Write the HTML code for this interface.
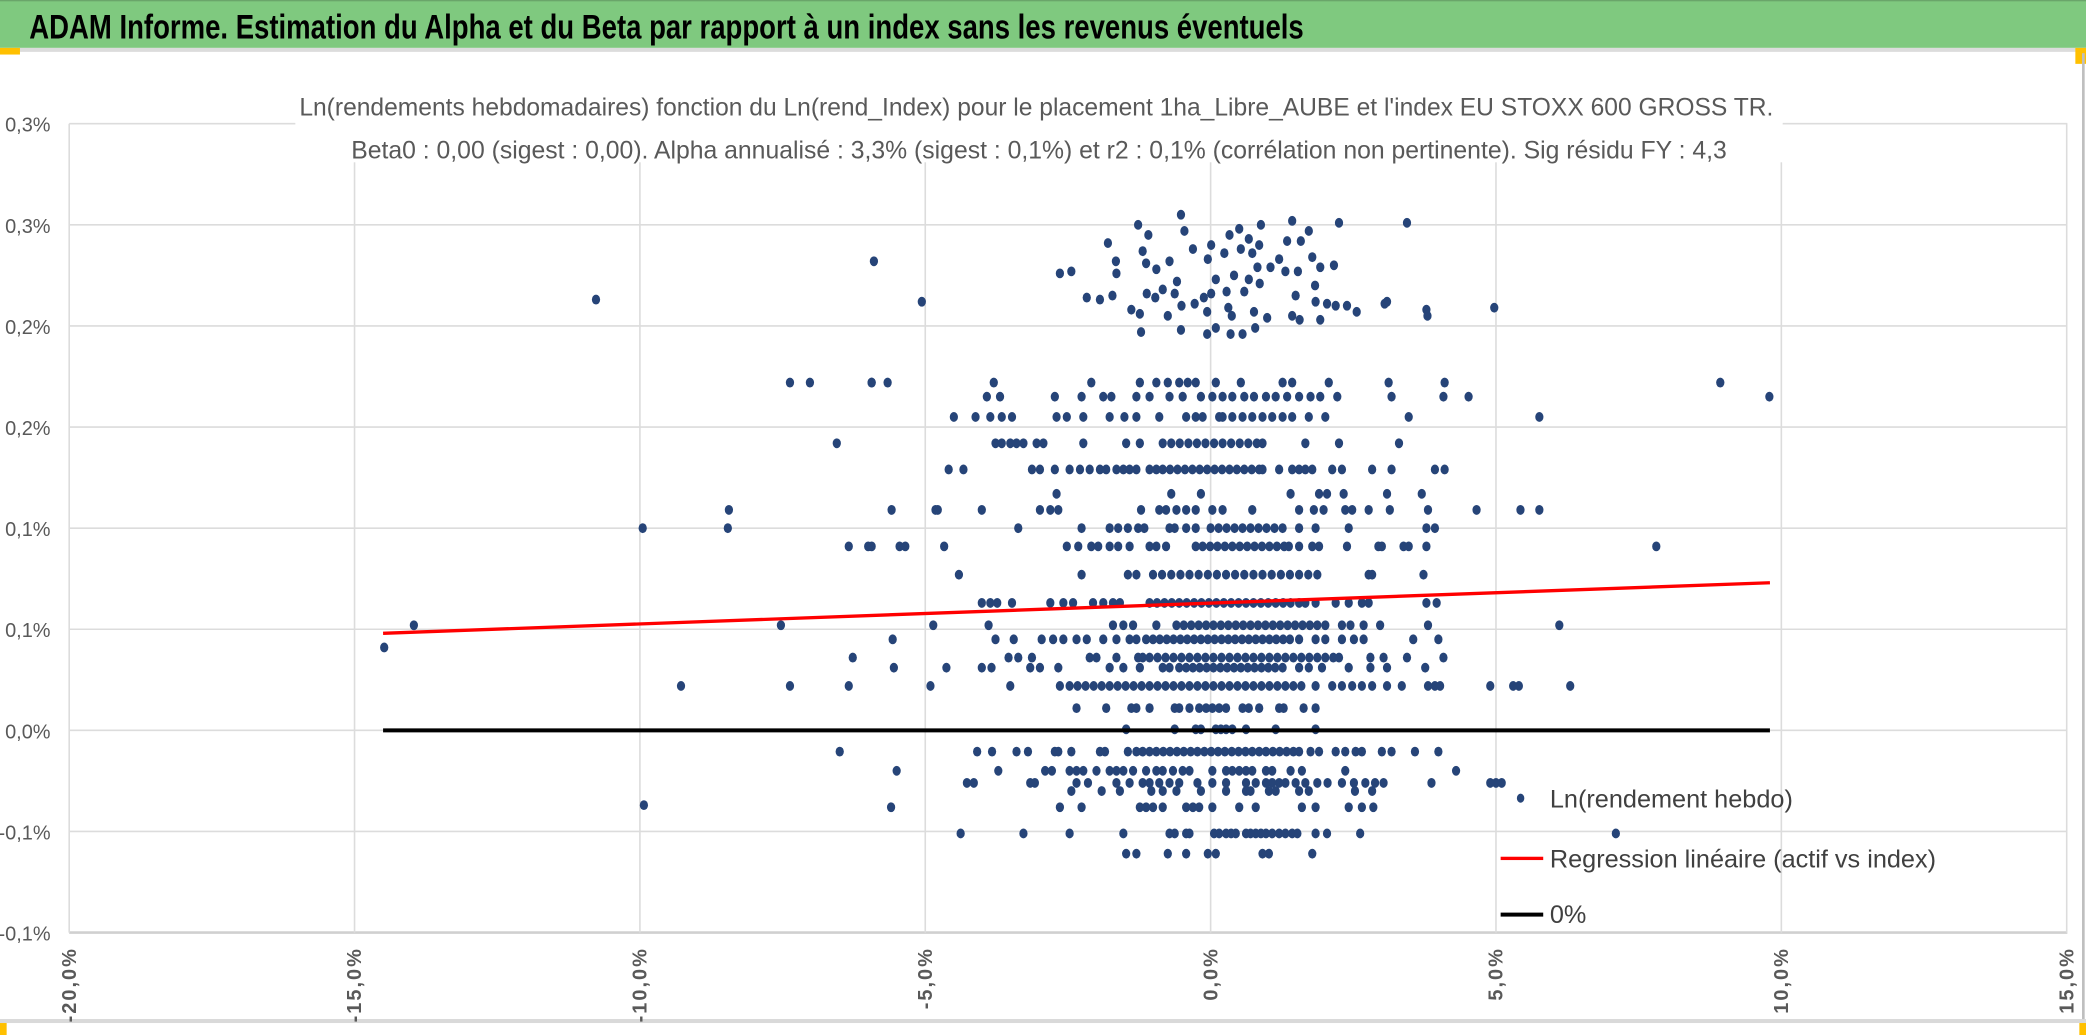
<!DOCTYPE html>
<html><head><meta charset="utf-8"><style>
html,body{margin:0;padding:0;background:#fff;overflow:hidden}
svg{display:block}
text{font-family:"Liberation Sans Narrow","Liberation Sans",sans-serif}
</style></head><body>
<svg id="chart" width="2086" height="1035" viewBox="0 0 1568 778" preserveAspectRatio="none" xmlns="http://www.w3.org/2000/svg">
<rect x="0" y="0" width="1568" height="778" fill="#fff"/>
<g>
<rect x="0" y="0" width="1568" height="36" fill="#7fc97f"/>
<rect x="0" y="0" width="1568" height="1" fill="#6aa56a"/>
<text x="22" y="29" font-size="26" font-weight="bold" fill="#000" textLength="958" lengthAdjust="spacingAndGlyphs">ADAM Informe. Estimation du Alpha et du Beta par rapport à un index sans les revenus éventuels</text>
</g>
<rect x="0" y="36" width="1568" height="3" fill="#dcdcdc"/>
<rect x="0" y="36" width="15" height="5" fill="#ffc000"/>
<rect x="1560" y="36" width="8" height="12" fill="#ffc000"/>
<rect x="1565" y="40" width="2" height="730" fill="#bfbfbf"/>
<rect x="0" y="766" width="1568" height="3" fill="#d9d9d9"/>
<rect x="0" y="769" width="5" height="9" fill="#ffc000"/>
<rect x="1563" y="769" width="5" height="9" fill="#ffc000"/>
<g id="grid"></g>
<g>
<rect x="222" y="64" width="1118" height="58" fill="#fff"/>
<text x="779" y="87" font-size="19" fill="#595959" text-anchor="middle" textLength="1108" lengthAdjust="spacingAndGlyphs">Ln(rendements hebdomadaires) fonction du Ln(rend_Index) pour le placement 1ha_Libre_AUBE et l'index EU STOXX 600 GROSS TR.</text>
<text x="781" y="119" font-size="19" fill="#595959" text-anchor="middle" textLength="1034" lengthAdjust="spacingAndGlyphs">Beta0 : 0,00 (sigest : 0,00). Alpha annualisé : 3,3% (sigest : 0,1%) et r2 : 0,1% (corrélation non pertinente). Sig résidu FY : 4,3</text>
</g>
<g id="yaxis"></g>
<g id="xaxis"></g>
<g id="points"></g>
<g id="lines"></g>
<g>
<g><ellipse cx="1143" cy="600" rx="2.8" ry="3.4" fill="#264478"/><text x="1165" y="607" font-size="19" fill="#404040">Ln(rendement hebdo)</text></g>
<g><rect x="1128" y="644" width="32" height="2.5" fill="#ff0000"/><text x="1165" y="652" font-size="19" fill="#404040">Regression linéaire (actif vs index)</text></g>
<g><rect x="1128" y="686" width="32" height="3" fill="#000"/><text x="1165" y="694" font-size="19" fill="#404040">0%</text></g>
</g>
</svg>
<script>
const yTicks=[0.30,0.25,0.20,0.15,0.10,0.05,0,-0.05,-0.10];
const yTickLabels=["0,3%","0,3%","0,2%","0,2%","0,1%","0,1%","0,0%","-0,1%","-0,1%"];
const xTicks=[-20,-15,-10,-5,0,5,10,15];
const xTickLabels=["-20,0%","-15,0%","-10,0%","-5,0%","0,0%","5,0%","10,0%","15,0%"];
const regX=[-14.5,9.8];
const regY=[0.048,0.073];
const zeroX=[-14.5,9.8];
const zeroY=[0,0];
const bandY=[-0.061,-0.051,-0.038,-0.030,-0.026,-0.020,-0.0105,0.0005,0.011,0.022,0.031,0.036,0.045,0.052,0.063,0.077,0.091,0.100,0.109,0.117,0.129,0.142,0.155,0.165,0.172];
const bandX=[
[-1.48,-1.30,-0.75,-0.43,-0.05,0.09,0.91,1.02,1.78],
[-4.38,-3.28,-2.47,-1.53,-0.72,-0.63,-0.43,-0.37,0.06,0.15,0.27,0.36,0.44,0.62,0.70,0.79,0.88,0.97,1.08,1.20,1.31,1.43,1.52,1.84,2.04,2.62,7.1],
[-2.64,-2.26,-1.24,-1.13,-1.01,-0.84,-0.43,-0.31,-0.20,0.03,0.50,0.79,1.60,1.84,2.42,2.65,2.85,-5.6],
[-2.44,-1.91,-1.59,-1.04,-0.84,-0.60,-0.17,0.27,0.62,0.70,1.02,1.14,1.55,1.72,2.53,2.83],
[-4.27,-4.15,-3.16,-3.08,-2.35,-2.15,-1.65,-1.42,-1.19,-1.07,-0.90,-0.72,-0.55,-0.23,0.03,0.27,0.62,0.79,0.97,1.08,1.20,1.31,1.49,1.66,1.87,2.05,2.30,2.51,2.71,2.88,3.03,3.87,4.9,5.0,5.1],
[-3.72,-2.90,-2.78,-2.47,-2.35,-2.23,-2.0,-1.77,-1.65,-1.53,-1.36,-1.13,-0.95,-0.84,-0.66,-0.49,-0.37,0.03,0.27,0.38,0.50,0.62,0.73,0.97,1.08,1.40,1.60,2.36,4.3,-5.5],
[-6.5,-4.09,-3.83,-3.40,-3.20,-2.73,-2.67,-2.44,-1.94,-1.85,-1.45,-1.30,-1.19,-1.07,-0.95,-0.83,-0.71,-0.59,-0.47,-0.35,-0.23,-0.11,0.01,0.13,0.25,0.37,0.49,0.61,0.73,0.85,0.97,1.09,1.21,1.33,1.45,1.55,1.75,1.90,2.19,2.36,2.54,2.65,3.00,3.17,3.58,3.99],
[-1.48,-0.63,-0.26,-0.17,0.09,0.18,0.27,0.38,0.62,1.14,1.84],
[-2.35,-1.83,-1.39,-1.30,-1.07,-0.63,-0.55,-0.37,-0.20,-0.08,0.03,0.15,0.27,0.56,0.67,0.85,1.20,1.28,1.63,1.84],
[-9.28,-7.37,-6.34,-4.91,-3.51,-2.64,-2.47,-2.33,-2.19,-2.05,-1.91,-1.77,-1.63,-1.49,-1.35,-1.21,-1.07,-0.93,-0.79,-0.65,-0.51,-0.37,-0.23,-0.09,0.05,0.19,0.33,0.47,0.61,0.75,0.89,1.03,1.17,1.31,1.45,1.59,1.84,2.13,2.30,2.48,2.65,2.83,3.09,3.35,3.81,3.93,4.02,4.9,5.3,5.4,6.3],
[-5.55,-4.63,-4.01,-3.84,-3.16,-2.99,-2.67,-1.77,-1.53,-1.24,-0.84,-0.72,-0.55,-0.43,-0.31,-0.19,-0.07,0.05,0.17,0.29,0.41,0.53,0.65,0.77,0.89,1.01,1.13,1.26,1.55,1.72,1.95,2.42,2.80,3.09,3.76],
[-6.27,-3.54,-3.37,-3.13,-2.12,-2.0,-1.65,-1.27,-1.19,-1.07,-0.93,-0.79,-0.65,-0.51,-0.37,-0.23,-0.09,0.05,0.19,0.33,0.47,0.61,0.75,0.89,1.03,1.17,1.31,1.45,1.59,1.73,1.87,2.01,2.15,2.25,2.80,3.03,3.44,4.08],
[-5.57,-3.77,-3.45,-2.96,-2.76,-2.58,-2.35,-2.17,-1.88,-1.65,-1.42,-1.30,-1.13,-1.01,-0.89,-0.77,-0.65,-0.53,-0.41,-0.29,-0.17,-0.05,0.07,0.19,0.31,0.43,0.55,0.67,0.79,0.91,1.03,1.15,1.27,1.39,1.55,1.84,2.01,2.30,2.51,2.68,3.55,3.99],
[-7.53,-4.86,-3.89,-1.71,-1.53,-1.36,-0.95,-0.60,-0.47,-0.34,-0.21,-0.08,0.05,0.18,0.31,0.44,0.57,0.70,0.83,0.96,1.09,1.22,1.35,1.48,1.61,1.74,1.87,2.01,2.30,2.45,2.68,2.97,3.81,6.11],
[-4.01,-3.86,-3.74,-3.48,-2.81,-2.58,-2.41,-2.06,-1.88,-1.71,-1.59,-1.07,-0.94,-0.81,-0.68,-0.55,-0.42,-0.29,-0.16,-0.03,0.10,0.23,0.36,0.49,0.62,0.75,0.88,1.01,1.14,1.27,1.40,1.55,1.66,1.84,2.19,2.42,2.65,2.77,3.78,3.96],
[-4.41,-2.26,-1.45,-1.30,-1.01,-0.85,-0.69,-0.53,-0.37,-0.21,-0.05,0.11,0.27,0.43,0.59,0.75,0.91,1.07,1.23,1.39,1.55,1.71,1.87,2.77,2.83,3.73],
[-6.34,-6.0,-5.94,-5.45,-5.35,-4.67,-2.52,-2.32,-2.09,-1.97,-1.77,-1.62,-1.42,-1.07,-0.95,-0.78,-0.26,-0.14,-0.01,0.12,0.25,0.38,0.51,0.64,0.77,0.90,1.03,1.16,1.29,1.37,1.55,1.78,1.90,2.39,2.94,3.0,3.38,3.47,3.78,7.81],
[-9.95,-8.46,-3.37,-2.26,-1.77,-1.62,-1.45,-1.27,-1.16,-0.72,-0.63,-0.43,-0.26,0.0,0.14,0.28,0.42,0.56,0.70,0.84,0.98,1.12,1.26,1.55,1.84,2.42,3.78,3.93],
[-8.44,-5.59,-4.78,-4.82,-4.01,-2.99,-2.81,-2.67,-1.22,-0.90,-0.78,-0.60,-0.43,-0.26,0.03,0.21,0.73,1.55,1.81,1.98,2.36,2.48,2.77,3.14,3.81,4.66,5.43,5.76],
[-2.70,-0.69,-0.17,1.40,1.90,2.04,2.33,3.09,3.70],
[-4.59,-4.33,-3.13,-2.99,-2.73,-2.47,-2.29,-2.12,-1.94,-1.83,-1.65,-1.53,-1.42,-1.30,-1.07,-0.95,-0.84,-0.71,-0.58,-0.45,-0.32,-0.19,-0.06,0.07,0.20,0.33,0.46,0.59,0.72,0.85,0.91,1.20,1.43,1.55,1.66,1.78,2.13,2.30,2.83,3.17,3.93,4.1],
[-6.55,-3.77,-3.66,-3.51,-3.40,-3.28,-3.05,-2.93,-2.23,-1.48,-1.24,-0.84,-0.69,-0.54,-0.39,-0.24,-0.09,0.06,0.21,0.36,0.51,0.66,0.81,0.91,1.66,2.25,3.30],
[-4.50,-4.12,-3.86,-3.66,-3.48,-2.70,-2.52,-2.23,-1.77,-1.51,-1.30,-0.90,-0.43,-0.26,-0.14,0.15,0.21,0.38,0.56,0.73,0.91,1.08,1.26,1.43,1.72,2.01,3.47,5.76],
[-3.92,-3.69,-2.73,-2.26,-1.88,-1.74,-1.30,-1.07,-0.72,-0.49,-0.17,0.03,0.21,0.38,0.59,0.76,0.97,1.14,1.34,1.55,1.75,1.92,2.22,3.17,4.08,4.52,9.79],
[-7.37,-7.02,-5.94,-5.94,-5.66,-3.80,-2.09,-1.24,-0.95,-0.75,-0.55,-0.40,-0.26,0.09,0.53,1.26,1.43,2.07,3.12,4.10,8.93]
];
const upperX=[-0.52,-1.27,1.43,2.25,3.44,0.88,0.50,-0.46,-1.09,1.72,-1.80,0.33,0.67,0.01,0.85,1.34,1.58,-1.19,-0.31,0.24,0.53,0.73,-1.66,-0.72,-1.13,-0.05,1.20,1.78,2.16,1.92,-2.64,-2.44,-1.65,-0.95,0.82,1.05,1.31,1.53,0.09,0.41,0.67,0.86,-0.59,1.83,-2.17,-1.94,-1.72,-1.12,-0.84,-0.63,-0.97,-0.12,0.01,0.28,0.59,1.49,3.09,1.84,2.04,2.19,2.39,2.56,3.78,-1.39,-1.24,-0.75,-0.51,-0.28,-0.06,0.31,0.37,0.76,0.99,1.43,1.56,1.92,-1.22,-0.52,-0.06,0.09,0.35,0.56,0.78,-10.77,-5.9,-5.06,3.05,3.8,4.97,-14.48,-13.96,-9.93];
const upperY=[0.255,0.250,0.252,0.251,0.251,0.250,0.248,0.247,0.245,0.247,0.241,0.245,0.243,0.240,0.240,0.242,0.242,0.237,0.238,0.236,0.238,0.236,0.232,0.232,0.231,0.233,0.233,0.234,0.230,0.229,0.226,0.227,0.226,0.228,0.229,0.229,0.227,0.227,0.223,0.225,0.223,0.221,0.222,0.220,0.214,0.213,0.215,0.216,0.218,0.216,0.214,0.214,0.216,0.217,0.217,0.215,0.212,0.212,0.211,0.210,0.210,0.207,0.208,0.208,0.206,0.205,0.210,0.211,0.207,0.209,0.205,0.207,0.204,0.205,0.203,0.203,0.197,0.198,0.196,0.199,0.196,0.196,0.199,0.213,0.232,0.212,0.211,0.205,0.209,0.041,0.052,-0.037];

const X0=910, XS=42.9, Y0=549, YS=1520;
function xs(u){return X0+u*XS;}
function ys(v){return Y0-v*YS;}
const NS="http://www.w3.org/2000/svg";
function mk(tag,attrs,parent){const e=document.createElementNS(NS,tag);for(const k in attrs)e.setAttribute(k,attrs[k]);parent.appendChild(e);return e;}

const grid=document.getElementById('grid');
yTicks.forEach((t,i)=>{
  const y=ys(t);
  const l=mk('line',{x1:52,x2:1554,y1:y,y2:y,stroke:(i===yTicks.length-1)?'#d0d0d0':'#dcdcdc','stroke-width':(i===yTicks.length-1)?2:1.2},grid);
  
  
});
xTicks.forEach((t)=>{
  const x=xs(t);
  const l=mk('line',{x1:x,x2:x,y1:ys(yTicks[0]),y2:ys(yTicks[yTicks.length-1]),stroke:'#dcdcdc','stroke-width':1.2},grid);
  
  
});
const ya=document.getElementById('yaxis');
yTicks.forEach((t,i)=>{
  const tx=mk('text',{x:38,y:ys(t)+6,'font-size':15,fill:'#595959','text-anchor':'end'},ya);
  tx.textContent=yTickLabels[i];
  
  
});
const xa=document.getElementById('xaxis');
xTicks.forEach((t,i)=>{
  const x=xs(t);
  const tx=mk('text',{x:0,y:0,'font-size':15,'font-weight':'bold',fill:'#595959','text-anchor':'end',transform:'translate('+(x+5)+',712) rotate(-90)','letter-spacing':'1.5'},xa);
  tx.textContent=xTickLabels[i];
  
  
});
const pts=document.getElementById('points');
function dot(u,v){
  const c=mk('ellipse',{cx:xs(u).toFixed(1),cy:ys(v).toFixed(1),rx:3.1,ry:3.7,fill:'#264478'},pts);
  
  
}
bandY.forEach((v,i)=>{bandX[i].forEach(u=>dot(u,v));});
upperX.forEach((u,i)=>dot(u,upperY[i]));
const lines=document.getElementById('lines');
const z=mk('line',{x1:xs(zeroX[0]),x2:xs(zeroX[1]),y1:ys(zeroY[0]),y2:ys(zeroY[1]),stroke:'#000','stroke-width':3},lines);


const r=mk('line',{x1:xs(regX[0]),x2:xs(regX[1]),y1:ys(regY[0]),y2:ys(regY[1]),stroke:'#ff0000','stroke-width':2.5},lines);


</script>
</body></html>
